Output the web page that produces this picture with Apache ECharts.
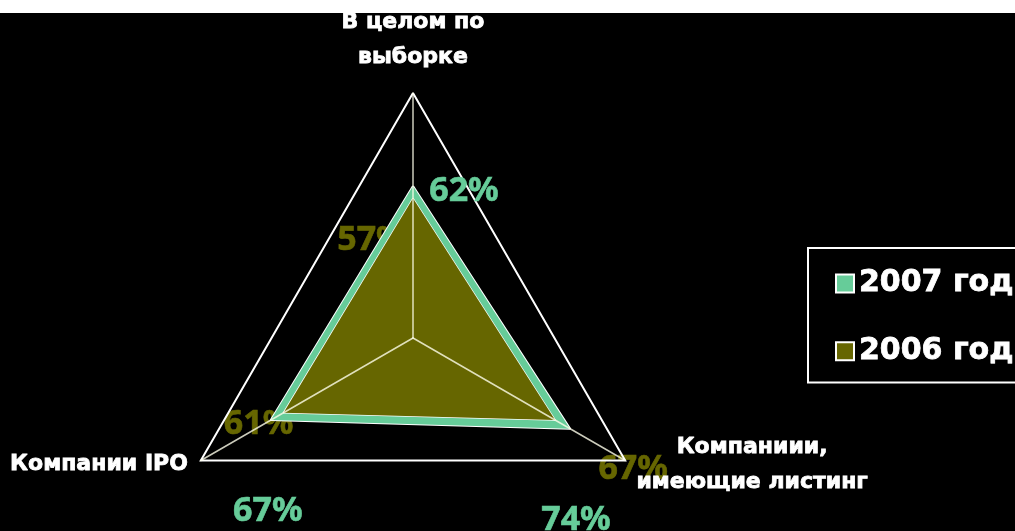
<!DOCTYPE html>
<html>
<head>
<meta charset="utf-8">
<script src="https://cdn.jsdelivr.net/npm/echarts@6/dist/echarts.min.js"></script>
<style>
  html, body { margin: 0; padding: 0; background: #fff; overflow: hidden; }
  #chart { position: absolute; left: 0; top: 13px; width: 1015px; height: 518px; background: #000; }
</style>
</head>
<body>
<div id="chart"></div>
<script>
// indicators go counter-clockwise from the top
const indicatorNames = ['В целом по\nвыборке', 'Компании IPO', 'Компаниии,\nимеющие листинг'];
const seriesNames = ['2007 год', '2006 год'];
const values2007 = [62, 67, 74];
const values2006 = [57, 61, 67];

const GREEN = '#66CC99';
const OLIVE = '#666600';

// where each value label sits relative to its vertex (px)
const labelOffsets2007 = [[51, 5], [-3, 91], [6, 92]];
const labelOffsets2006 = [[-41, 42], [-25, 12], [78, 49]];

const nameFont = {
  fontFamily: 'DejaVu Sans', fontWeight: 'bold', fontSize: 22, lineHeight: 35, color: '#fff',
  textBorderColor: '#fff', textBorderWidth: 0.8
};

function wrapName(name, idx) {
  const lines = name.split('\n');
  if (idx === 0) return lines.map(s => '{t|' + s + '}').join('\n') + '\n{sp| }';
  if (idx === 1) return '{l|' + name + '}';
  return lines.map(s => '{c|' + s + '}').join('\n');
}

function labelSeries(values, offsets, color, z) {
  return {
    type: 'radar',
    z: z,
    silent: true,
    symbol: 'circle',
    symbolSize: 1,
    itemStyle: { color: 'rgba(0,0,0,0)' },
    lineStyle: { width: 0, opacity: 0 },
    label: {
      show: true,
      position: 'inside',
      color: color,
      fontFamily: 'Noto Sans',
      fontWeight: 'bold',
      fontSize: 34,
      textBorderColor: color,
      textBorderWidth: 0.6,
      formatter: p => p.dimensionIndex === p.dataIndex ? p.value + '%' : ''
    },
    data: offsets.map(o => ({ value: values, label: { offset: o } }))
  };
}

const chart = echarts.init(document.getElementById('chart'));
chart.setOption({
  backgroundColor: '#000',
  animation: false,
  legend: {
    data: seriesNames,
    orient: 'vertical',
    left: 808,
    top: 235,
    padding: [20, 10, 16, 27],
    itemGap: 37,
    itemWidth: 18,
    itemHeight: 18,
    icon: 'rect',
    borderColor: '#fff',
    borderWidth: 2,
    itemStyle: { borderColor: '#fff', borderWidth: 2 },
    textStyle: {
      color: '#fff', fontFamily: 'DejaVu Sans', fontWeight: 'bold', fontSize: 30, lineHeight: 30,
      textBorderColor: '#fff', textBorderWidth: 0.8
    }
  },
  radar: {
    z: 3,
    center: [413, 325],
    radius: 245,
    startAngle: 90,
    splitNumber: 1,
    shape: 'polygon',
    nameGap: 8,
    indicator: indicatorNames.map(n => ({ name: n, min: 0, max: 100 })),
    axisName: Object.assign({}, nameFont, {
      formatter: (name) => wrapName(name, indicatorNames.indexOf(name)),
      rich: {
        t: Object.assign({}, nameFont),
        sp: Object.assign({}, nameFont, { fontSize: 1, lineHeight: 10 }),
        l: Object.assign({}, nameFont, { padding: [0, 6, 0, 0] }),
        c: Object.assign({}, nameFont, { width: 240, align: 'center' })
      }
    }),
    axisLine: { lineStyle: { color: 'rgba(255,255,235,0.8)', width: 1.5 } },
    axisTick: { show: false },
    splitLine: { lineStyle: { color: '#fff', width: 2 } },
    splitArea: { show: false }
  },
  series: [
    labelSeries(values2006, labelOffsets2006, OLIVE, 1),
    {
      type: 'radar',
      z: 2,
      symbol: 'none',
      data: [
        {
          name: seriesNames[0],
          value: values2007,
          itemStyle: { color: GREEN },
          lineStyle: { color: '#fff', width: 2 },
          areaStyle: { color: GREEN, opacity: 1 }
        },
        {
          name: seriesNames[1],
          value: values2006,
          itemStyle: { color: OLIVE },
          lineStyle: { color: '#fff', width: 1.5 },
          areaStyle: { color: OLIVE, opacity: 1 }
        }
      ]
    },
    labelSeries(values2007, labelOffsets2007, GREEN, 4)
  ]
});
</script>
</body>
</html>
